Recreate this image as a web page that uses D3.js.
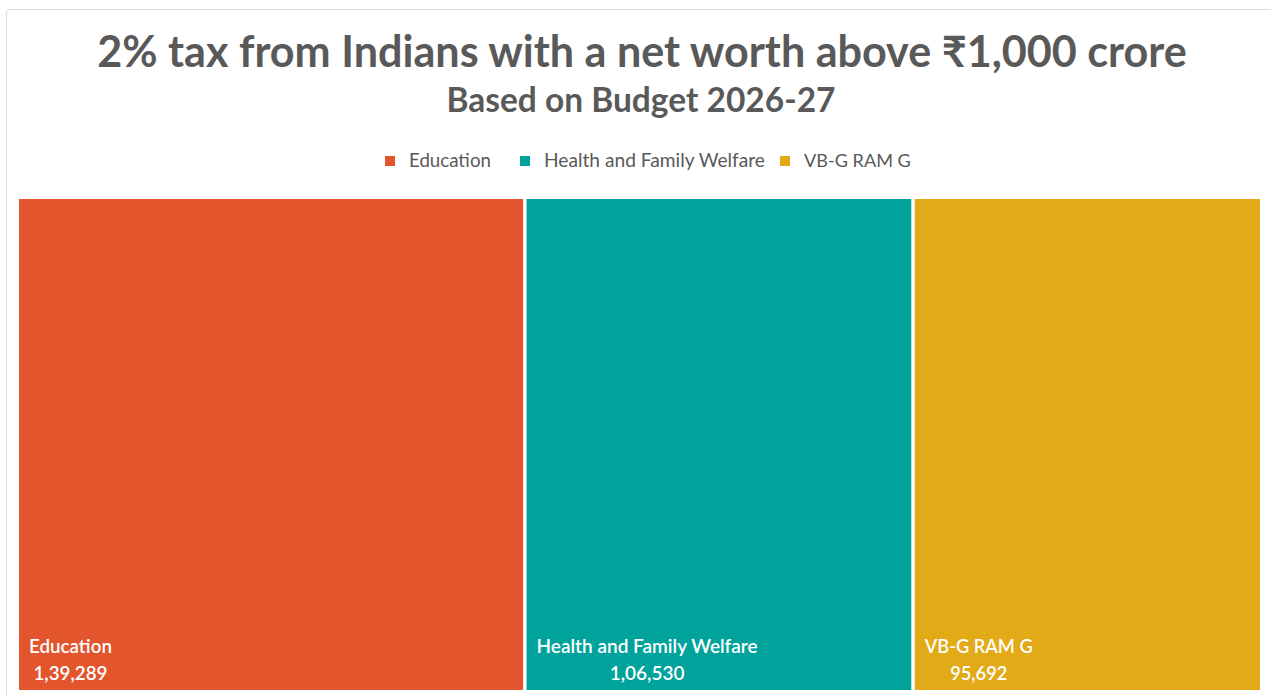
<!DOCTYPE html>
<html>
<head>
<meta charset="utf-8">
<script src="https://cdn.jsdelivr.net/npm/d3@7/dist/d3.min.js"></script>
<style>
  html, body { margin: 0; padding: 0; background: #ffffff; }
  svg { display: block; }
  text { font-family: Lato, "Open Sans", "Noto Sans", sans-serif; }
</style>
</head>
<body>
<svg id="chart" width="1271" height="696"></svg>
<script>
// Budget heads (₹ crore) that the 2% wealth tax could fund
const categories = ["Education", "Health and Family Welfare", "VB-G RAM G"];
const values = [139289, 106530, 95692];
const valueLabels = ["1,39,289", "1,06,530", "95,692"];
const colors = ["#E2552D", "#00A39C", "#E3AA18"];

const titleText = "2% tax from Indians with a net worth above ₹1,000 crore";
const subtitleText = "Based on Budget 2026-27";

const W = 1271, H = 696;
const svg = d3.select("#chart");

// Chart area frame
svg.append("rect")
  .attr("x", 6.5).attr("y", 9.5)
  .attr("width", 1290).attr("height", 700)
  .attr("rx", 3)
  .attr("fill", "#ffffff")
  .attr("stroke", "#dcdcdc");

// Scale font so a line of text spans a given width
function fitWidth(sel, target) {
  const size = parseFloat(sel.attr("font-size"));
  const w = sel.node().getComputedTextLength();
  sel.attr("font-size", (size * target / w).toFixed(2));
}

const title = svg.append("text")
  .attr("x", 642).attr("y", 67)
  .attr("text-anchor", "middle")
  .attr("font-size", 40).attr("font-weight", 700)
  .attr("fill", "#595959")
  .text(titleText);
fitWidth(title, 1090);

const subtitle = svg.append("text")
  .attr("x", 641).attr("y", 112)
  .attr("text-anchor", "middle")
  .attr("font-size", 28).attr("font-weight", 700)
  .attr("fill", "#595959")
  .text(subtitleText);
fitWidth(subtitle, 389);

// Legend
const legendX = [385, 520, 780];
const legendTextW = [82, 221, 107];
const legend = svg.append("g");
categories.forEach((c, i) => {
  legend.append("rect")
    .attr("x", legendX[i]).attr("y", 156)
    .attr("width", 10).attr("height", 10)
    .attr("fill", colors[i]);
  const t = legend.append("text")
    .attr("x", legendX[i] + 24).attr("y", 167)
    .attr("font-size", 17)
    .attr("fill", "#595959")
    .text(c);
  fitWidth(t, legendTextW[i]);
});

// Treemap laid out as side-by-side slices
const root = d3.hierarchy({
  children: categories.map((c, i) => ({ name: c, value: values[i], label: valueLabels[i], color: colors[i] }))
}).sum(d => d.value || 0);

d3.treemap()
  .tile(d3.treemapDice)
  .size([1241, 491])
  .paddingInner(3.5)
  .round(false)(root);

const plot = svg.append("g").attr("transform", "translate(19,199)");

const cells = plot.selectAll("g.cell")
  .data(root.leaves())
  .join("g")
  .attr("class", "cell")
  .attr("transform", d => `translate(${d.x0},${d.y0})`);

cells.append("rect")
  .attr("width", d => d.x1 - d.x0)
  .attr("height", d => d.y1 - d.y0)
  .attr("fill", d => d.data.color);

const nameW = [83, 221, 108];
cells.each(function (d, i) {
  const g = d3.select(this);
  const h = d.y1 - d.y0;
  const name = g.append("text")
    .attr("x", 10).attr("y", h - 37)
    .attr("font-size", 17).attr("font-weight", 600)
    .attr("fill", "#ffffff")
    .text(d.data.name);
  fitWidth(name, nameW[i]);
  const nw = name.node().getComputedTextLength();
  g.append("text")
    .attr("x", 10 + nw / 2).attr("y", h - 10)
    .attr("text-anchor", "middle")
    .attr("font-size", name.attr("font-size")).attr("font-weight", 600)
    .attr("fill", "#ffffff")
    .text(d.data.label);
});
</script>
</body>
</html>
